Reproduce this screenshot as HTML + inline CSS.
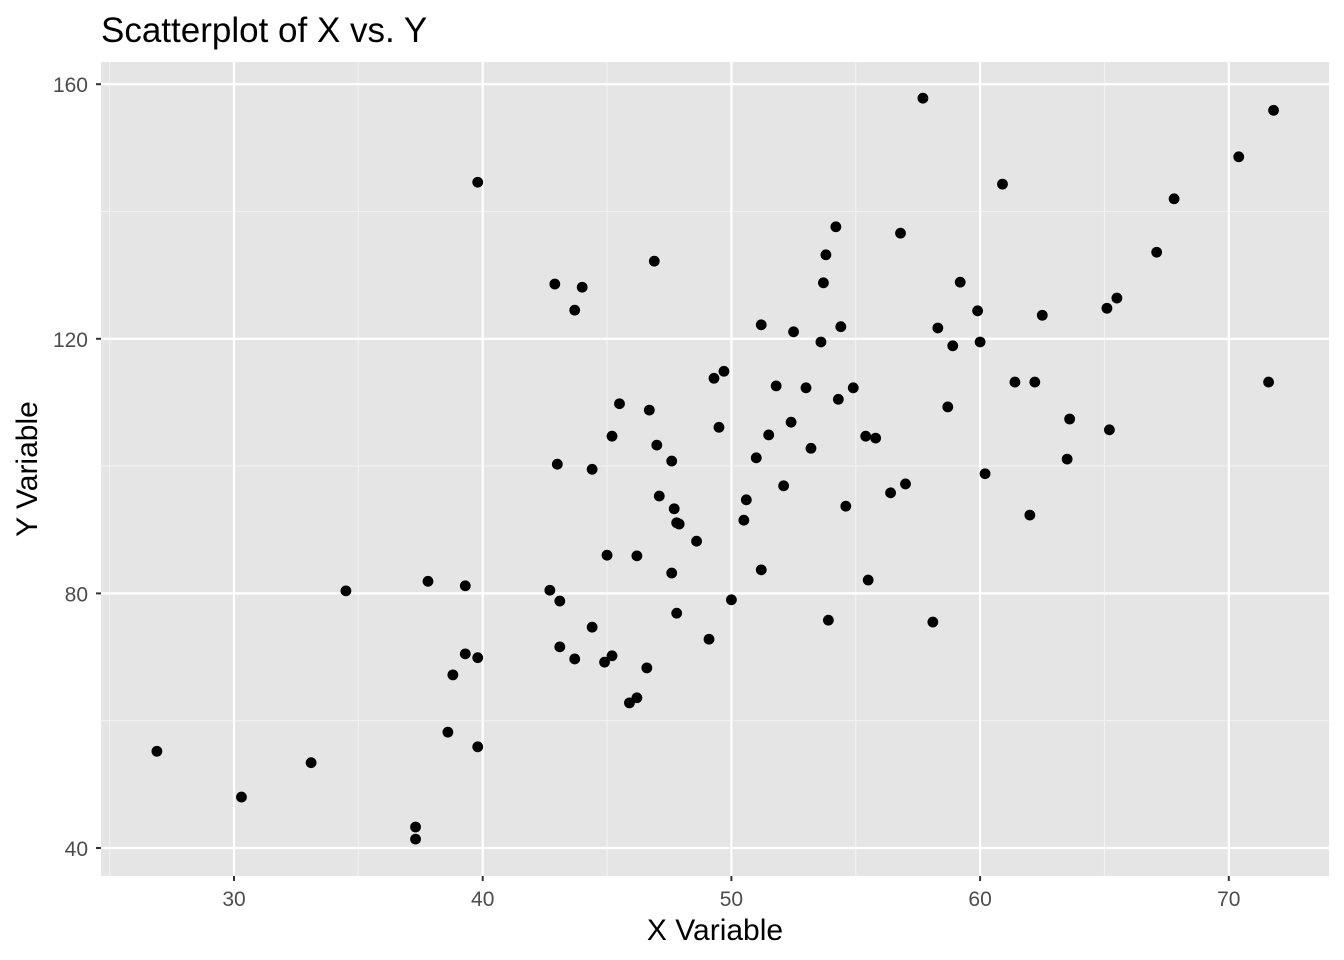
<!DOCTYPE html>
<html><head><meta charset="utf-8"><style>
html,body{margin:0;padding:0;background:#fff;}
svg{display:block;font-family:"Liberation Sans",Arial,sans-serif;}
</style></head><body>
<svg id="chart" width="1344" height="960">
<text x="101" y="42" font-size="35" fill="#000">Scatterplot of X vs. Y</text>
<text x="715" y="940" font-size="30" text-anchor="middle" fill="#000">X Variable</text>
<text transform="translate(37,469) rotate(-90)" font-size="30" text-anchor="middle" fill="#000">Y Variable</text>
</svg>
<script>
const xValues=[26.9,30.3,33.1,34.5,37.3,37.3,37.8,38.6,38.8,39.3,39.3,39.8,39.8,39.8,42.7,42.9,43.0,43.1,43.1,43.7,43.7,44.0,44.4,44.4,44.9,45.0,45.2,45.2,45.5,45.9,46.2,46.2,46.6,46.7,46.9,47.0,47.1,47.6,47.6,47.7,47.8,47.8,47.9,48.6,49.1,49.3,49.5,49.7,50.0,50.5,50.6,51.0,51.2,51.2,51.5,51.8,52.1,52.4,52.5,53.0,53.2,53.6,53.7,53.8,53.9,54.2,54.3,54.4,54.6,54.9,55.4,55.5,55.8,56.4,56.8,57.0,57.7,58.1,58.3,58.7,58.9,59.2,59.9,60.0,60.2,60.9,61.4,62.0,62.2,62.5,63.5,63.6,65.1,65.2,65.5,67.1,67.8,70.4,71.6,71.8];
const yValues=[55.2,48.0,53.4,80.4,43.3,41.4,81.9,58.2,67.2,70.5,81.2,69.9,55.9,144.6,80.5,128.6,100.3,78.8,71.6,69.7,124.5,128.1,74.7,99.5,69.2,86.0,70.2,104.7,109.8,62.8,63.6,85.9,68.3,108.8,132.2,103.3,95.3,83.2,100.8,93.3,91.1,76.9,90.9,88.2,72.8,113.8,106.1,114.9,79.0,91.5,94.7,101.3,122.2,83.7,104.9,112.6,96.9,106.9,121.1,112.3,102.8,119.5,128.8,133.2,75.8,137.6,110.5,121.9,93.7,112.3,104.7,82.1,104.4,95.8,136.6,97.2,157.8,75.5,121.7,109.3,118.9,128.9,124.4,119.5,98.8,144.3,113.2,92.3,113.2,123.7,101.1,107.4,124.8,105.7,126.4,133.6,142.0,148.6,113.2,155.9];
const xTicks=[30,40,50,60,70];
const yTicks=[40,80,120,160];
const xMinor=[25,35,45,55,65];
const yMinor=[60,100,140];
const PL=101,PR=1329,PT=62,PB=876;
const sx=v=>234+(v-30)*24.87;
const sy=v=>848-(v-40)*6.365;
const svg=document.getElementById('chart');
const NS='http://www.w3.org/2000/svg';
function mk(t,a){const e=document.createElementNS(NS,t);for(const k in a)e.setAttribute(k,a[k]);svg.appendChild(e);return e;}
const bg=mk('rect',{x:PL,y:PT,width:PR-PL,height:PB-PT,fill:'#e5e5e5'});


xMinor.forEach(v=>{if(sx(v)<PL)return;const l=mk('line',{x1:sx(v),x2:sx(v),y1:PT,y2:PB,stroke:'#f2f2f2','stroke-width':1.1});

});
yMinor.forEach(v=>{const l=mk('line',{x1:PL,x2:PR,y1:sy(v),y2:sy(v),stroke:'#f2f2f2','stroke-width':1.1});

});
xTicks.forEach(v=>{const l=mk('line',{x1:sx(v),x2:sx(v),y1:PT,y2:PB,stroke:'#fff','stroke-width':2.2});


const t=mk('line',{x1:sx(v),x2:sx(v),y1:PB,y2:PB+5,stroke:'#333','stroke-width':2});


const tx=mk('text',{x:sx(v),y:PB+30,'font-size':21,'text-anchor':'middle',fill:'#4d4d4d'});tx.textContent=v;

});
yTicks.forEach(v=>{const l=mk('line',{x1:PL,x2:PR,y1:sy(v),y2:sy(v),stroke:'#fff','stroke-width':2.2});


const t=mk('line',{x1:PL-5,x2:PL,y1:sy(v),y2:sy(v),stroke:'#333','stroke-width':2});


const tx=mk('text',{x:PL-13,y:sy(v)+8,'font-size':21,'text-anchor':'end',fill:'#4d4d4d'});tx.textContent=v;

});
xValues.forEach((v,i)=>{const c=mk('circle',{cx:sx(v),cy:sy(yValues[i]),r:5.4,fill:'#000'});

});
</script>
</body></html>
